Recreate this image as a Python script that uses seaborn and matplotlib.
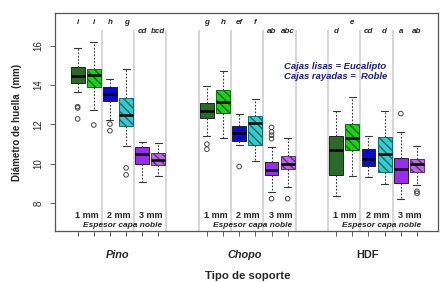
import matplotlib
matplotlib.use("Agg")
import matplotlib.pyplot as plt
import pandas as pd
import seaborn as sns

# box positions (3 supports x 6 boxes, gap of 2 between supports)
posiciones = [1, 2, 3, 4, 5, 6, 9, 10, 11, 12, 13, 14, 17, 18, 19, 20, 21, 22]

# five-number summaries
bigote_inf = [13.65, 12.74, 12.25, 10.92, 9.08, 9.39,
              11.40, 11.33, 10.95, 10.16, 8.57, 8.81,
              8.34, 9.39, 9.32, 8.98, 8.23, 8.90]
q1 = [14.12, 13.89, 13.21, 11.94, 9.98, 9.94,
      12.35, 12.57, 11.16, 10.96, 9.42, 9.73,
      9.45, 10.71, 9.91, 9.57, 9.05, 9.57]
mediana = [14.46, 14.50, 13.53, 12.50, 10.50, 10.18,
           12.70, 13.13, 11.55, 12.09, 9.69, 9.98,
           10.71, 11.30, 10.26, 10.49, 9.76, 9.98]
q3 = [14.90, 14.82, 13.92, 13.33, 10.87, 10.57,
      13.10, 13.77, 11.91, 12.43, 10.11, 10.42,
      11.42, 12.03, 10.76, 11.38, 10.31, 10.25]
bigote_sup = [15.90, 16.20, 14.33, 14.80, 11.13, 11.05,
              13.95, 14.70, 12.52, 13.28, 10.84, 11.33,
              12.70, 13.38, 11.42, 12.70, 11.63, 10.92]

# outliers
atipicos = [[12.84, 12.90, 12.28], [11.97], [12.02, 11.68], [9.79, 9.44], [], [],
            [11.00, 10.74], [], [9.86], [], [11.85, 11.62, 11.45, 11.28, 8.23], [8.23],
            [], [], [], [], [12.55], [8.60, 8.50]]

# significance letters
letras = ["i", "i", "h", "g", "cd", "bcd",
          "g", "h", "ef", "f", "ab", "abc",
          "d", "e", "cd", "d", "a", "ab"]
letras_alta = [1, 1, 1, 1, 0, 0,
               1, 1, 1, 1, 0, 0,
               0, 1, 0, 0, 0, 0]

soportes = ["Pino", "Chopo", "HDF"]
espesores = ["1 mm", "2 mm", "3 mm"]

colores = ["#2c6a2c", "#22cc22", "#0a0ad0", "#3cc8c8", "#9a2cf0", "#b46ed6"] * 3
rayado = [False, True, False, True, False, True] * 3
color_raya = {"#22cc22": "#0b6e0b", "#3cc8c8": "#0f6c72", "#b46ed6": "#62288a"}

sns.set_style("ticks")
plt.rcParams["font.family"] = ["Liberation Sans", "DejaVu Sans"]

out_rows = []
for i, p in enumerate(posiciones):
    for v in atipicos[i]:
        out_rows.append({"pos": p, "diametro": v})
df_out = pd.DataFrame(out_rows)

fig = plt.figure(figsize=(4.46, 2.82), dpi=100)
ax = fig.add_axes([0.1233, 0.181, 0.8587, 0.773])

ymin, ymax = 6.59, 17.66
# grey separators
for xv in [2.5, 4.5, 6.5, 8.5, 10.5, 12.5, 14.5, 16.5, 18.5, 20.5]:
    ax.vlines(xv, ymin, 16.8, color="#cfcfcf", linewidth=1.2, zorder=0)

for i, p in enumerate(posiciones):
    caja = pd.DataFrame({"pos": p,
                         "diametro": [bigote_inf[i], q1[i], mediana[i], q3[i], bigote_sup[i]]})
    sns.boxplot(data=caja, x="pos", y="diametro", color=colores[i],
                native_scale=True, width=0.86, whis=(0, 100), saturation=1,
                linecolor="#222222", linewidth=0.7, ax=ax,
                whiskerprops=dict(linestyle=(0, (1.5, 1.5)), color="#333333", linewidth=0.8),
                capprops=dict(color="#333333", linewidth=0.8),
                medianprops=dict(color="black", linewidth=1.8))
    if rayado[i]:
        for patch in ax.containers[-1].boxes:
            patch.set_hatch("\\\\\\\\")
            patch.set_edgecolor(color_raya[colores[i]])

sns.scatterplot(data=df_out, x="pos", y="diametro", marker="o", s=11,
                facecolor="none", edgecolor="#444444", linewidth=0.7, ax=ax, zorder=5)

bold_it = dict(fontweight="bold", fontstyle="italic")
for i, p in enumerate(posiciones):
    yv = 17.17 if letras_alta[i] else 16.70
    ax.text(p, yv, letras[i], ha="center", va="center", fontsize=5.8, **bold_it)

for g in range(3):
    base = posiciones[g * 6]
    for k, e in enumerate(espesores):
        ax.text(base + 2 * k + 0.55, 7.36, e, ha="center", va="center",
                fontsize=6.5, fontweight="bold")
    ax.text(base + 2.8, 6.87, "Espesor capa noble", ha="center", va="center",
            fontsize=6, **bold_it)
    ax.text([3.5, 11.35, 18.95][g], 5.35, soportes[g], ha="center", va="center",
            fontsize=7.8, fontweight="bold",
            fontstyle="normal" if soportes[g] == "HDF" else "italic")

ax.text(13.75, 14.93, "Cajas lisas = Eucalipto", ha="left", va="center",
        fontsize=6.8, color="#1c1c8a", **bold_it)
ax.text(13.75, 14.43, "Cajas rayadas =  Roble", ha="left", va="center",
        fontsize=6.8, color="#1c1c8a", **bold_it)

ax.text(11.5, 4.3, "Tipo de soporte", ha="center", va="center",
        fontsize=8.2, fontweight="bold")

ax.set_xlim(-0.40, 23.30)
ax.set_ylim(ymin, ymax)
ax.set_xticks(posiciones)
ax.set_xticklabels([])
ax.set_yticks([8, 10, 12, 14, 16])
ax.set_yticklabels(["8", "10", "12", "14", "16"], rotation=90, va="center", fontsize=7)
ax.tick_params(axis="both", length=3.5, width=0.6, color="#444444")
ax.tick_params(axis="y", pad=5)
ax.set_xlabel("")
ax.set_ylabel("Diámetro de huella  (mm)", fontsize=7, fontweight="bold", labelpad=8)
for s in ax.spines.values():
    s.set_color("#555555")
    s.set_linewidth(0.9)

fig.savefig("out.png", dpi=100)
